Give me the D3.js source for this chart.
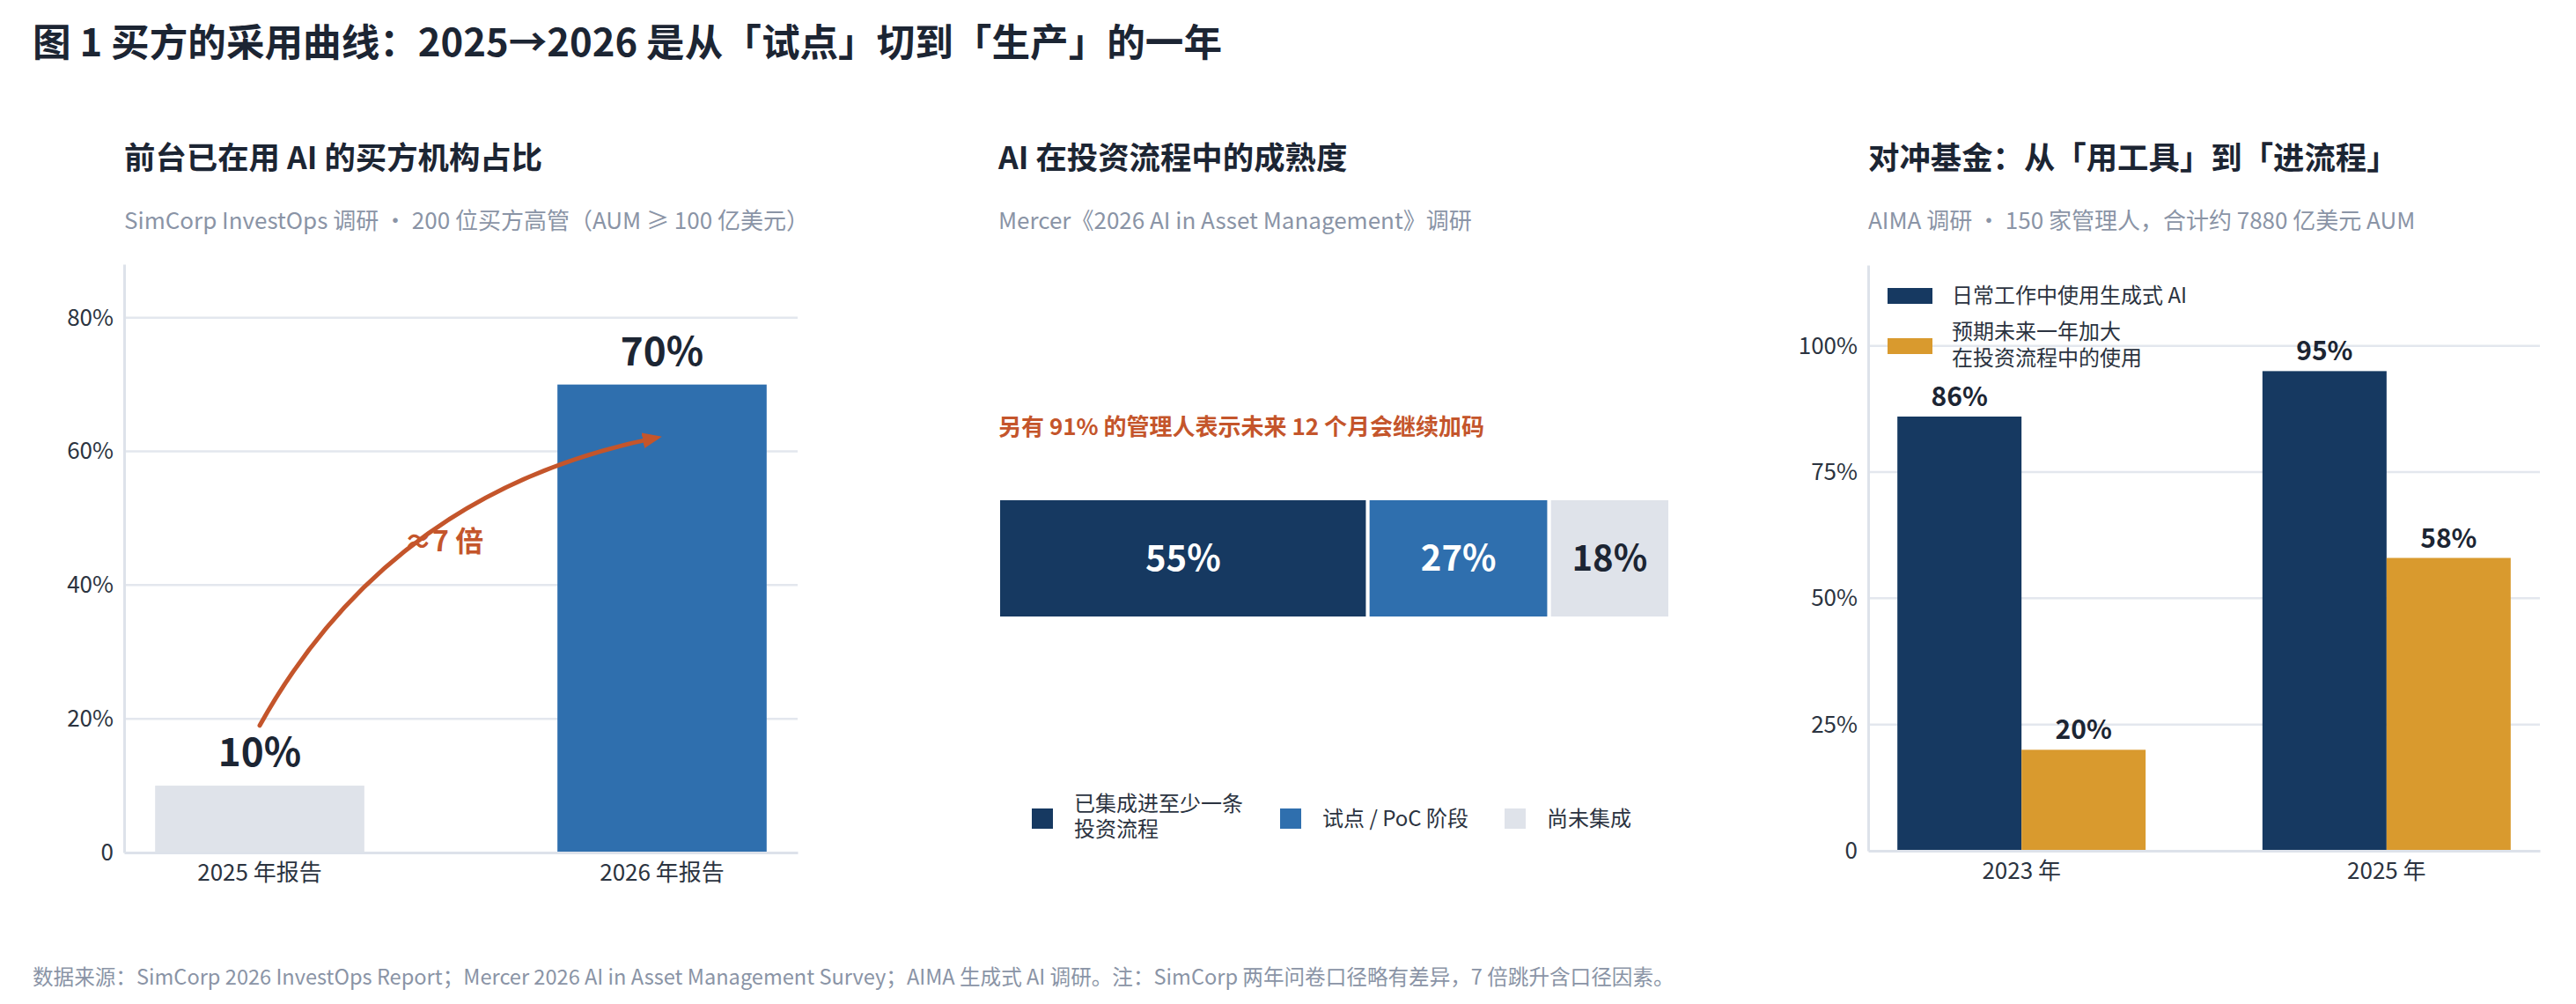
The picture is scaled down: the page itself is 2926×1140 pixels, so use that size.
<!DOCTYPE html>
<html>
<head>
<meta charset="utf-8">
<script src="https://cdn.jsdelivr.net/npm/d3@7"></script>
<style>
  html, body { margin: 0; padding: 0; background: #fff; }
  svg { display: block; font-family: "Noto Sans CJK SC", "Noto Sans", sans-serif; }
</style>
</head>
<body>
<div id="chart"></div>
<script>
// panel 1: front office AI adoption
var p1Categories = ['2025 年报告', '2026 年报告'];
var p1Values = [10, 70];
var p1Ticks = [0, 20, 40, 60, 80];

// panel 2: maturity in investment process
var p2Values = [55, 27, 18];
var p2Legend = [['已集成进至少一条', '投资流程'], ['试点 / PoC 阶段'], ['尚未集成']];

// panel 3: hedge funds
var p3Years = ['2023 年', '2025 年'];
var p3Series = [['日常工作中使用生成式 AI'], ['预期未来一年加大', '在投资流程中的使用']];
var p3Daily = [86, 95];
var p3Expand = [20, 58];
var p3Ticks = [0, 25, 50, 75, 100];

var width = 2926,
    height = 1140;

var ink = '#1c2533',
    muted = '#8a94a6',
    grid = '#e3e7ee',
    navy = '#163961',
    blue = '#2f6fae',
    light = '#dfe3ea',
    gold = '#d99a2e',
    accent = '#c4552b';

var svg = d3.select('#chart').append('svg')
    .attr('width', width)
    .attr('height', height);

var pct = function(d) { return d === 0 ? '0' : d + '%'; };

// main title
svg.append('text')
    .attr('x', 37).attr('y', 64)
    .attr('font-size', 43.6).attr('font-weight', 700).attr('fill', ink)
    .text('图 1 买方的采用曲线：2025→2026 是从「试点」切到「生产」的一年');

var heading = function(x, title, sub) {
  svg.append('text')
      .attr('x', x).attr('y', 192)
      .attr('font-size', 35.4).attr('font-weight', 700).attr('fill', ink)
      .text(title);
  svg.append('text')
      .attr('x', x).attr('y', 260)
      .attr('font-size', 26).attr('fill', muted)
      .text(sub);
};

// ---------- panel 1 ----------
heading(141, '前台已在用 AI 的买方机构占比', 'SimCorp InvestOps 调研 · 200 位买方高管（AUM ≥ 100 亿美元）');

var x1 = d3.scaleBand().domain(p1Categories).range([141, 906])
    .paddingInner(0.48).paddingOuter(0.077);
var y1 = d3.scaleLinear().domain([0, 88]).range([968, 300]);

var g1 = svg.append('g');

g1.selectAll('line.grid')
    .data(p1Ticks.filter(function(d) { return d > 0; }))
  .enter().append('line')
    .attr('class', 'grid')
    .attr('x1', 141).attr('x2', 906)
    .attr('y1', function(d) { return y1(d); })
    .attr('y2', function(d) { return y1(d); })
    .attr('stroke', grid).attr('stroke-width', 2.5);

g1.selectAll('rect')
    .data(p1Values)
  .enter().append('rect')
    .attr('x', function(d, i) { return x1(p1Categories[i]); })
    .attr('y', function(d) { return y1(d); })
    .attr('width', x1.bandwidth())
    .attr('height', function(d) { return y1(0) - y1(d); })
    .attr('fill', function(d, i) { return i === 0 ? light : blue; });

g1.selectAll('text.val')
    .data(p1Values)
  .enter().append('text')
    .attr('class', 'val')
    .attr('x', function(d, i) { return x1(p1Categories[i]) + x1.bandwidth() / 2; })
    .attr('y', function(d) { return y1(d) - 22; })
    .attr('text-anchor', 'middle')
    .attr('font-size', 44).attr('font-weight', 700).attr('fill', ink)
    .text(function(d) { return d + '%'; });

var yAxis1 = g1.append('g')
    .attr('transform', 'translate(141,0)')
    .call(d3.axisLeft(y1).tickValues(p1Ticks).tickFormat(pct).tickSize(0).tickPadding(12));
var xAxis1 = g1.append('g')
    .attr('transform', 'translate(0,968)')
    .call(d3.axisBottom(x1).tickSize(0).tickPadding(14));

// arrow from the 2025 bar to the 2026 bar
svg.append('defs').append('marker')
    .attr('id', 'head')
    .attr('markerUnits', 'userSpaceOnUse')
    .attr('markerWidth', 22).attr('markerHeight', 18)
    .attr('refX', 14).attr('refY', 9)
    .attr('orient', 'auto')
  .append('path')
    .attr('d', 'M0,0 L22,9 L0,18 Z')
    .attr('fill', accent);

var ax0 = x1(p1Categories[0]) + x1.bandwidth() / 2,
    ax1 = x1(p1Categories[1]) + x1.bandwidth() / 2 - 8;
var arc = d3.path();
arc.moveTo(ax0, y1(19));
arc.quadraticCurveTo(ax0 + (ax1 - ax0) * 0.33, y1(54), ax1, y1(62));
g1.append('path')
    .attr('d', arc.toString())
    .attr('fill', 'none')
    .attr('stroke', accent).attr('stroke-width', 5)
    .attr('stroke-linecap', 'round')
    .attr('marker-end', 'url(#head)');

g1.append('text')
    .attr('x', ax0 + 164).attr('y', y1(45))
    .attr('font-size', 32).attr('font-weight', 700).attr('fill', accent)
    .text('≈7 倍');

// ---------- panel 2 ----------
heading(1134, 'AI 在投资流程中的成熟度', 'Mercer《2026 AI in Asset Management》调研');

svg.append('text')
    .attr('x', 1134).attr('y', 494)
    .attr('font-size', 26).attr('font-weight', 700).attr('fill', accent)
    .text('另有 91% 的管理人表示未来 12 个月会继续加码');

var x2 = d3.scaleLinear().domain([0, d3.sum(p2Values)]).range([1134, 1897]);
var p2Colors = [navy, blue, light];
var starts = [];
p2Values.reduce(function(acc, v) { starts.push(acc); return acc + v; }, 0);

var g2 = svg.append('g');
g2.selectAll('rect')
    .data(p2Values)
  .enter().append('rect')
    .attr('x', function(d, i) { return x2(starts[i]); })
    .attr('y', 566)
    .attr('width', function(d, i) { return x2(starts[i] + d) - x2(starts[i]); })
    .attr('height', 136)
    .attr('fill', function(d, i) { return p2Colors[i]; })
    .attr('stroke', '#fff').attr('stroke-width', 4);

g2.selectAll('text.seg')
    .data(p2Values)
  .enter().append('text')
    .attr('class', 'seg')
    .attr('x', function(d, i) { return (x2(starts[i]) + x2(starts[i] + d)) / 2; })
    .attr('y', 648)
    .attr('text-anchor', 'middle')
    .attr('font-size', 40).attr('font-weight', 700)
    .attr('fill', function(d, i) { return i === 2 ? ink : '#fff'; })
    .text(function(d) { return d + '%'; });

var legendX2 = [1172, 1454, 1709];
var lg2 = g2.selectAll('g.leg')
    .data(p2Legend)
  .enter().append('g')
    .attr('class', 'leg')
    .attr('transform', function(d, i) { return 'translate(' + legendX2[i] + ',918)'; });
lg2.append('rect')
    .attr('width', 24).attr('height', 23)
    .attr('fill', function(d, i) { return p2Colors[i]; });
lg2.append('text')
    .attr('x', 48)
    .attr('font-size', 24).attr('fill', '#2b3340')
    .each(function(d) {
      var t = d3.select(this);
      var top = d.length > 1 ? 3 : 20;
      d.forEach(function(line, k) {
        t.append('tspan').attr('x', 48).attr('y', top + k * 29).text(line);
      });
    });

// ---------- panel 3 ----------
heading(2122, '对冲基金：从「用工具」到「进流程」', 'AIMA 调研 · 150 家管理人，合计约 7880 亿美元 AUM');

var x3 = d3.scaleBand().domain(p3Years).range([2122, 2885])
    .paddingInner(0.32).paddingOuter(0.08);
var xs3 = d3.scaleBand().domain([0, 1]).range([0, x3.bandwidth()]);
var y3 = d3.scaleLinear().domain([0, 116]).range([966, 301]);
var p3Colors = [navy, gold];

var g3 = svg.append('g');
g3.selectAll('line.grid')
    .data(p3Ticks.filter(function(d) { return d > 0; }))
  .enter().append('line')
    .attr('class', 'grid')
    .attr('x1', 2122).attr('x2', 2885)
    .attr('y1', function(d) { return y3(d); })
    .attr('y2', function(d) { return y3(d); })
    .attr('stroke', grid).attr('stroke-width', 2.5);

var groups = g3.selectAll('g.year')
    .data(p3Years)
  .enter().append('g')
    .attr('class', 'year')
    .attr('transform', function(d) { return 'translate(' + x3(d) + ',0)'; });

groups.selectAll('rect')
    .data(function(d, i) { return [p3Daily[i], p3Expand[i]]; })
  .enter().append('rect')
    .attr('x', function(d, k) { return xs3(k); })
    .attr('y', function(d) { return y3(d); })
    .attr('width', xs3.bandwidth())
    .attr('height', function(d) { return y3(0) - y3(d); })
    .attr('fill', function(d, k) { return p3Colors[k]; });

groups.selectAll('text')
    .data(function(d, i) { return [p3Daily[i], p3Expand[i]]; })
  .enter().append('text')
    .attr('x', function(d, k) { return xs3(k) + xs3.bandwidth() / 2; })
    .attr('y', function(d) { return y3(d) - 12; })
    .attr('text-anchor', 'middle')
    .attr('font-size', 30).attr('font-weight', 700).attr('fill', ink)
    .text(function(d) { return d + '%'; });

var yAxis3 = g3.append('g')
    .attr('transform', 'translate(2122,0)')
    .call(d3.axisLeft(y3).tickValues(p3Ticks).tickFormat(pct).tickSize(0).tickPadding(12));
var xAxis3 = g3.append('g')
    .attr('transform', 'translate(0,966)')
    .call(d3.axisBottom(x3).tickSize(0).tickPadding(14));

var lg3 = g3.selectAll('g.leg')
    .data(p3Series)
  .enter().append('g')
    .attr('class', 'leg')
    .attr('transform', function(d, i) { return 'translate(2144,' + (327 + i * 57) + ')'; });
lg3.append('rect')
    .attr('width', 51).attr('height', 18)
    .attr('fill', function(d, i) { return p3Colors[i]; });
lg3.append('text')
    .attr('font-size', 24).attr('fill', '#2b3340')
    .each(function(d) {
      var t = d3.select(this);
      var top = d.length > 1 ? 1 : 17;
      d.forEach(function(line, k) {
        t.append('tspan').attr('x', 73).attr('y', top + k * 30).text(line);
      });
    });

// shared axis styling
[yAxis1, yAxis3, xAxis1, xAxis3].forEach(function(a) {
  a.select('.domain').attr('stroke', '#dde2ea').attr('stroke-width', 3);
  a.selectAll('text').attr('font-size', 26).attr('fill', '#2b3340')
      .attr('font-family', '"Noto Sans CJK SC", sans-serif');
});

// footer
svg.append('text')
    .attr('x', 37).attr('y', 1118)
    .attr('font-size', 23.6).attr('fill', muted)
    .text('数据来源：SimCorp 2026 InvestOps Report；Mercer 2026 AI in Asset Management Survey；AIMA 生成式 AI 调研。注：SimCorp 两年问卷口径略有差异，7 倍跳升含口径因素。');
</script>
</body>
</html>
